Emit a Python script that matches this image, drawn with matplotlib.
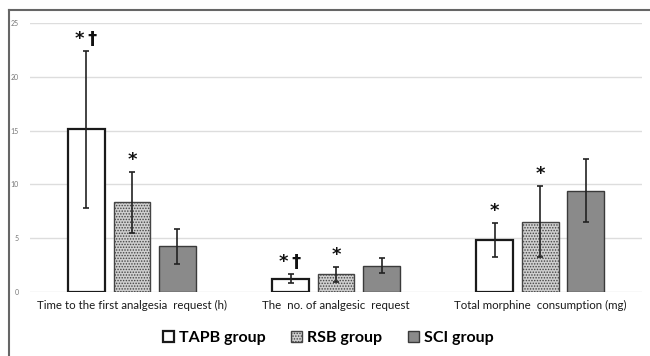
import numpy as np
import matplotlib.pyplot as plt

# data
categories = ['Time to the first analgesia  request (h)',
              'The  no. of analgesic  request',
              'Total morphine  consumption (mg)']
groups = ['TAPB group', 'RSB group', 'SCI group']
tapb = [15.1, 1.2, 4.8]
tapb_err = [7.3, 0.4, 1.6]
rsb = [8.3, 1.6, 6.5]
rsb_err = [2.8, 0.7, 3.3]
sci = [4.2, 2.4, 9.4]
sci_err = [1.6, 0.7, 2.9]
marks = [['*\u2009\u2020', '*', ''], ['*\u2009\u2020', '*', ''], ['*', '*', '']]  # per category

plt.rcParams['font.family'] = ['Lato', 'DejaVu Sans']
plt.rcParams['hatch.color'] = '#7a7a7a'
plt.rcParams['hatch.linewidth'] = 0.7

fig = plt.figure(figsize=(6.5, 3.56), dpi=100)
ax = fig.add_axes([0.046, 0.181, 0.942, 0.754])

x = np.arange(len(categories))
w = 0.18
step = 0.223
ekw = dict(ecolor='#222222', elinewidth=1.2, capsize=2, capthick=1.2)

b1 = ax.bar(x - step, tapb, w, yerr=tapb_err, color='white', edgecolor='#1a1a1a',
            linewidth=1.6, error_kw=ekw, label=groups[0], zorder=3)
b2 = ax.bar(x, rsb, w, yerr=rsb_err, color='#cfcfcf', edgecolor='#444444',
            linewidth=1.0, hatch='......', error_kw=ekw, label=groups[1], zorder=3)
b3 = ax.bar(x + step, sci, w, yerr=sci_err, color='#8a8a8a', edgecolor='#3a3a3a',
            linewidth=1.0, error_kw=ekw, label=groups[2], zorder=3)

# significance marks above error bars
vals = [tapb, rsb, sci]
errs = [tapb_err, rsb_err, sci_err]
offs = [-step, 0, step]
for i in range(len(categories)):
    for g in range(3):
        m = marks[i][g]
        if m:
            ax.text(x[i] + offs[g], vals[g][i] + errs[g][i] + 0.3, m, ha='center',
                    va='bottom', fontsize=13, fontweight='bold', color='#111111',
                    family=['DejaVu Sans'])

ax.set_xlim(-0.5, 2.5)
ax.set_ylim(0, 25)
ax.set_yticks([0, 5, 10, 15, 20, 25])
ax.tick_params(axis='y', labelsize=5, colors='#777777', length=0, pad=8)
ax.set_xticks(x)
ax.set_xticklabels(categories, fontsize=8.3, color='#1a1a1a')
ax.tick_params(axis='x', length=0, pad=6)
ax.grid(axis='y', color='#dddddd', linewidth=1.0, zorder=0)
for s in ax.spines.values():
    s.set_visible(False)

fig.legend(handles=[b1, b2, b3], loc='center', bbox_to_anchor=(0.505, 0.05), ncol=3,
           frameon=False, prop={'size': 11.5, 'weight': 'bold'}, handlelength=0.7,
           handleheight=0.7, handletextpad=0.3, columnspacing=1.6)

# outer frame (only top and left visible in the original crop)
fig.add_artist(plt.Line2D([0.014, 1.0], [0.972, 0.972], color='#666666', linewidth=1.5))
fig.add_artist(plt.Line2D([0.014, 0.014], [0.0, 0.972], color='#666666', linewidth=1.5))

fig.savefig('out.png', dpi=100)
